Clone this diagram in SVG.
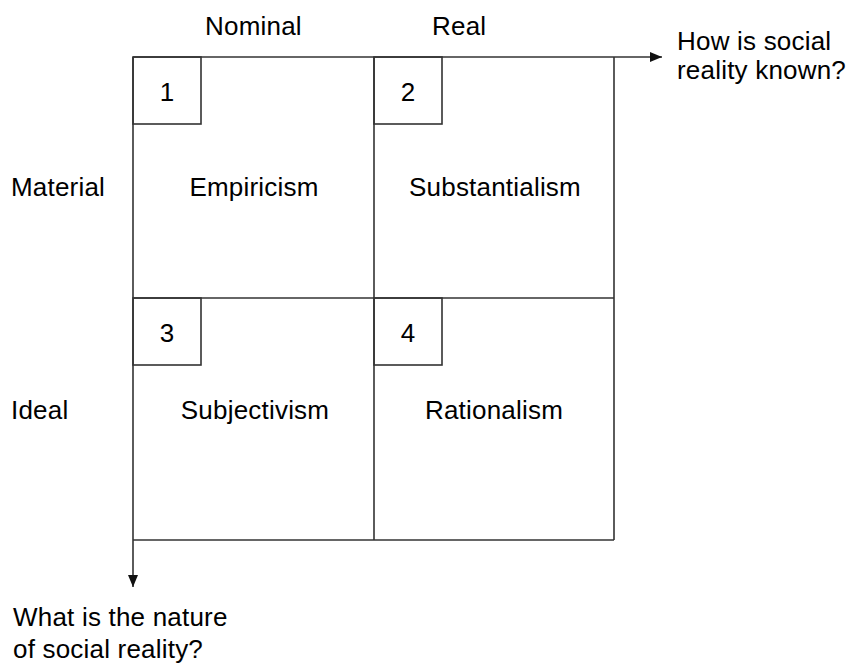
<svg xmlns="http://www.w3.org/2000/svg" width="849" height="666" viewBox="0 0 849 666">
<style>
.t{font-family:"Liberation Sans",Arial,sans-serif;font-size:26px;letter-spacing:0.2px;fill:#000}
.m{text-anchor:middle}
.ln{stroke:#333;stroke-width:1.6;fill:none}
</style>
<defs>
<marker id="ah" viewBox="0 0 12 10" refX="12" refY="5" markerWidth="12" markerHeight="10" markerUnits="userSpaceOnUse" orient="auto">
<path d="M0,0 L12,5 L0,10 z" fill="#111"/>
</marker>
</defs>
<rect width="849" height="666" fill="#fff"/>
<g id="connectors">
<line class="ln" x1="133" y1="57" x2="662" y2="57" marker-end="url(#ah)"/>
<line class="ln" x1="133" y1="57" x2="133" y2="587" marker-end="url(#ah)"/>
</g>
<g id="grid">
<line class="ln" x1="133" y1="540" x2="614" y2="540"/>
<line class="ln" x1="614" y1="57" x2="614" y2="540"/>
<line class="ln" x1="374" y1="57" x2="374" y2="540"/>
<line class="ln" x1="133" y1="298" x2="614" y2="298"/>
</g>
<g id="cell1">
<rect class="ln" x="133" y="57" width="68" height="67"/>
<text class="t m" x="167" y="101">1</text>
<text class="t m" x="254" y="196">Empiricism</text>
</g>
<g id="cell2">
<rect class="ln" x="374" y="57" width="68" height="67"/>
<text class="t m" x="408" y="101">2</text>
<text class="t m" x="495" y="196">Substantialism</text>
</g>
<g id="cell3">
<rect class="ln" x="133" y="298" width="68" height="67"/>
<text class="t m" x="167" y="342">3</text>
<text class="t m" x="255" y="419">Subjectivism</text>
</g>
<g id="cell4">
<rect class="ln" x="374" y="298" width="68" height="67"/>
<text class="t m" x="408" y="342">4</text>
<text class="t m" x="494" y="419">Rationalism</text>
</g>
<g id="labels">
<text class="t" x="205" y="35">Nominal</text>
<text class="t" x="432" y="35">Real</text>
<text class="t" x="11" y="196">Material</text>
<text class="t" x="11" y="419">Ideal</text>
<text class="t" x="677" y="50">How is social</text>
<text class="t" x="677" y="79">reality known?</text>
<text class="t" x="13" y="626">What is the nature</text>
<text class="t" x="13" y="658">of social reality?</text>
</g>
</svg>
